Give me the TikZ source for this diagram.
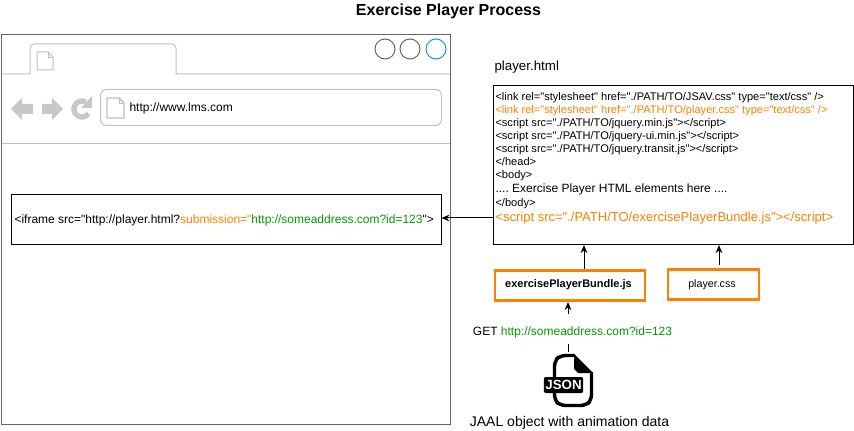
\documentclass[tikz,border=0pt]{standalone}
\usepackage{fontspec}
\setmainfont{Liberation Sans}[Ligatures=TeXOff]
\frenchspacing
\usetikzlibrary{arrows.meta}
\definecolor{winedge}{HTML}{666666}
\definecolor{lightedge}{HTML}{C0C0C0}
\definecolor{iconfill}{HTML}{C8C8C8}
\definecolor{tagorange}{HTML}{FF8000}
\definecolor{urlgreen}{HTML}{009900}
\definecolor{winblue}{HTML}{1E90FF}
\tikzset{
  codeline/.style={anchor=base west,inner sep=0pt,font=\fontsize{8.3}{9}\selectfont},
  bigline/.style={anchor=base west,inner sep=0pt,font=\fontsize{9}{10}\selectfont},
  urlline/.style={anchor=base west,inner sep=0pt,font=\fontsize{9}{10}\selectfont},
  filebox/.style={draw=tagorange,line width=1.6pt,inner sep=0pt},
  winbutton/.style={circle,draw=winedge,minimum size=15pt,inner sep=0pt},
  pageicon/.style={draw=lightedge,fill=white,line width=0.75pt,line join=round}
}

\begin{document}
\begin{tikzpicture}[>={Stealth[length=6pt,width=5pt]},x=0.75pt,y=-0.75pt,line width=0.75pt]
  \useasboundingbox (0,0) rectangle (854,431);
  \node[anchor=base,inner sep=0pt,font=\fontsize{12}{14}\selectfont\bfseries] (title) at (448.5,15.5) {Exercise Player Process};

  % browser window
  \draw[lightedge] (1,74) -- (30,74) -- (30,48) arc[start angle=180,end angle=270,radius=4] -- (172,44)
    arc[start angle=270,end angle=360,radius=4] -- (176,74) -- (450,74);
  \draw[lightedge] (1,144) -- (450,144);
  \node[draw=winedge,minimum width=336.75pt,minimum height=292.5pt,inner sep=0pt,anchor=north west] (window) at (1,34) {};
  \node[winbutton] (btnone) at (385,49) {};
  \node[winbutton] (btntwo) at (410,49) {};
  \node[winbutton,draw=winblue] (btnthree) at (436,49) {};
  \draw[pageicon] (37,52) -- (48,52) -- (53,57) -- (53,70) -- (37,70) -- cycle;
  \draw[lightedge,line width=0.5pt] (48,52) -- (48,57) -- (53,57);
  \node[draw=lightedge,rounded corners=4.5pt,minimum width=255.75pt,minimum height=27pt,inner sep=0pt,anchor=north west] (addressbar) at (100,89) {};
  \draw[pageicon,line width=1.1pt] (107,98) -- (119,98) -- (124,103) -- (124,118) -- (107,118) -- cycle;
  \draw[lightedge,line width=0.5pt] (119,98) -- (119,103) -- (124,103);
  \node[urlline] (address) at (129,112) {http://www.lms.com};

  % nav buttons
  \fill[iconfill] (11,109) -- (22,98) -- (22,104) -- (33,104) -- (33,114) -- (22,114) -- (22,120) -- cycle;
  \fill[iconfill] (63,109) -- (52,98) -- (52,104) -- (42,104) -- (42,114) -- (52,114) -- (52,120) -- cycle;
  \draw[iconfill,line width=4pt] (88.5,113.6) arc[start angle=35,end angle=300,radius=8];
  \fill[iconfill] (92,96) -- (92,108) -- (81,108) -- cycle;

  \node[draw=black,minimum width=322.5pt,minimum height=37.5pt,inner sep=0pt,anchor=north west] (iframe) at (11,194) {};
  \node[urlline] (iframetext) at (14,224) {<iframe src="http://player.html?\textcolor{tagorange}{submission="}\textcolor{urlgreen}{http://someaddress.com?id=123}">};

  % player page
  \node[anchor=base west,inner sep=0pt,font=\fontsize{10}{12}\selectfont] (pagename) at (494,71) {player.html};
  \node[draw=black,minimum width=270pt,minimum height=119.25pt,inner sep=0pt,anchor=north west] (page) at (493,85) {};
  \node[codeline] (lineone) at (495,101) {<link rel="stylesheet" href="./PATH/TO/JSAV.css" type="text/css" />};
  \node[codeline,text=tagorange] (linetwo) at (495,114) {<link rel="stylesheet" href="./PATH/TO/player.css" type="text/css" />};
  \node[codeline] (linethree) at (495,127) {<script src="./PATH/TO/jquery.min.js"></script>};
  \node[codeline] (linefour) at (495,140) {<script src="./PATH/TO/jquery-ui.min.js"></script>};
  \node[codeline] (linefive) at (495,153) {<script src="./PATH/TO/jquery.transit.js"></script>};
  \node[codeline] (linesix) at (495,166) {</head>};
  \node[codeline] (lineseven) at (495,179) {<body>};
  \node[bigline] (lineeight) at (495,193) {.... Exercise Player HTML elements here ....};
  \node[codeline] (linenine) at (495,207) {</body>};
  \node[anchor=base west,inner sep=0pt,font=\fontsize{9.75}{11}\selectfont,text=tagorange] (lineten) at (495,222) {<script src="./PATH/TO/exercisePlayerBundle.js"></script>};

  \node[filebox,minimum width=113pt,minimum height=22.5pt,anchor=north west] (bundle) at (493.5,269.5) {};
  \node[anchor=base,inner sep=0pt,font=\fontsize{8.25}{9}\selectfont\bfseries] (bundlename) at (568.5,288) {exercisePlayerBundle.js};
  \node[filebox,minimum width=68.5pt,minimum height=22.5pt,anchor=north west] (playercss) at (666.5,268.5) {};
  \node[anchor=base,inner sep=0pt,font=\fontsize{8}{9}\selectfont] (cssname) at (712,287) {player.css};

  \node[anchor=base,inner sep=0pt,font=\fontsize{9}{10}\selectfont] (getlabel) at (572.5,335) {GET \textcolor{urlgreen}{http://someaddress.com?id=123}};
  \coordinate (jsontop) at (568,352);
  \coordinate (jsonstub) at (568,344);
  \coordinate (getstart) at (568,314);
  \coordinate (bundlefoot) at (568,302);
  \coordinate (bundletop) at (584,269);
  \coordinate (pagefoota) at (584,245);
  \coordinate (csstop) at (719,265);
  \coordinate (pagefootb) at (719,245);
  \coordinate (pageleft) at (493,218);
  \coordinate (iframeright) at (441.5,218);

  \draw (jsontop) -- (jsonstub);
  \draw[->] (getstart) -- (bundlefoot);
  \draw[->] (bundletop) -- (pagefoota);
  \draw[->] (csstop) -- (pagefootb);
  \draw[->] (pageleft) -- (iframeright);

  % json file icon
  \draw[line width=2.6pt,line join=round,rounded corners=4pt] (575,355.5) -- (560,355.5) -- (554.5,361) -- (554.5,400) -- (560,405.5) -- (586,405.5) -- (591.5,400) -- (591.5,372);
  \fill[line join=round] (574,354) -- (593,373) -- (578,373) -- (574,369) -- cycle;
  \node[fill=black,text=white,rounded corners=1.5pt,inner sep=0pt,minimum width=29.5pt,minimum height=12pt,font=\fontsize{10}{10}\selectfont\bfseries] (jsonbadge) at (563.5,385) {JSON};

  \node[anchor=base,inner sep=0pt,font=\fontsize{10.5}{12}\selectfont] (jaal) at (569.5,426.5) {JAAL object with animation data};
\end{tikzpicture}
\end{document}
